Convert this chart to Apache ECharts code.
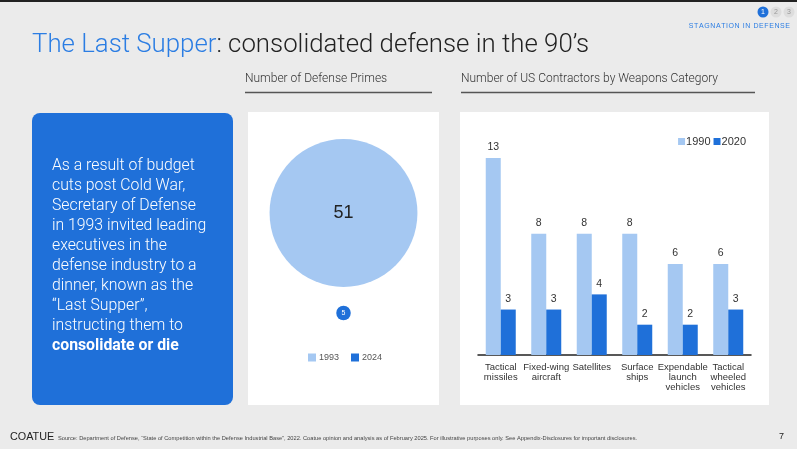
<!DOCTYPE html>
<html>
<head>
<meta charset="utf-8">
<script src="https://cdn.jsdelivr.net/npm/echarts@6/dist/echarts.min.js"></script>
<style>
  html, body { margin: 0; padding: 0; background: #ebebeb; }
  #chart { width: 797px; height: 449px; }
</style>
</head>
<body>
<div id="chart"></div>
<script>
// Defense primes (bubble panel)
const primeYears = ['1993', '2024'];
const primeCounts = [51, 5];

// Contractors by weapons category (bar panel)
const categories = ['Tactical\nmissiles', 'Fixed-wing\naircraft', 'Satellites', 'Surface\nships', 'Expendable\nlaunch\nvehicles', 'Tactical\nwheeled\nvehicles'];
const contractors1990 = [13, 8, 8, 8, 6, 6];
const contractors2020 = [3, 3, 4, 2, 2, 3];

const boxLines = [
    'As a result of budget',
    'cuts post Cold War,',
    'Secretary of Defense',
    'in 1993 invited leading',
    'executives in the',
    'defense industry to a',
    'dinner, known as the',
    '\u201cLast Supper\u201d,',
    'instructing them to'
];
const boxBold = 'consolidate or die';

const LIGHT = '#a5c8f2';
const DARK = '#1f70d9';
const FONT = "'Liberation Sans', Arial, sans-serif";

// spaced-out caps for the section tag
const sectionTag = 'STAGNATION IN DEFENSE'.split('').join('\u200a');

const chart = echarts.init(document.getElementById('chart'));

chart.setOption({
    backgroundColor: '#ebebeb',
    animation: false,
    textStyle: { fontFamily: FONT },
    graphic: [
        // top rule
        { type: 'rect', shape: { x: 0, y: 0, width: 797, height: 2 }, style: { fill: '#222' } },
        // panels
        { type: 'rect', shape: { x: 248, y: 112, width: 191, height: 293 }, style: { fill: '#fff' }, z: -1 },
        { type: 'rect', shape: { x: 460, y: 112, width: 309, height: 293 }, style: { fill: '#fff' }, z: -1 },
        { type: 'rect', shape: { x: 32, y: 113, width: 201, height: 292, r: 8 }, style: { fill: DARK } },
        // title
        {
            type: 'text', left: 32, top: 33,
            style: {
                text: '{b|The Last Supper}{a|: consolidated defense in the 90\u2019s}',
                rich: {
                    b: { fill: '#2b7de3', fontSize: 25.8, fontWeight: 300, fontFamily: 'Roboto' },
                    a: { fill: '#222', fontSize: 25.8, fontWeight: 300, fontFamily: 'Roboto' }
                }
            }
        },
        // page dots
        { type: 'circle', shape: { cx: 763, cy: 12, r: 5.5 }, style: { fill: DARK } },
        { type: 'text', style: { x: 763, y: 12, text: '1', fill: '#fff', fontSize: 7, align: 'center', verticalAlign: 'middle', fontFamily: FONT } },
        { type: 'circle', shape: { cx: 776, cy: 12, r: 5.5 }, style: { fill: '#ddd' } },
        { type: 'text', style: { x: 776, y: 12, text: '2', fill: '#999', fontSize: 7, align: 'center', verticalAlign: 'middle', fontFamily: FONT } },
        { type: 'circle', shape: { cx: 789, cy: 12, r: 5.5 }, style: { fill: '#ddd' } },
        { type: 'text', style: { x: 789, y: 12, text: '3', fill: '#999', fontSize: 7, align: 'center', verticalAlign: 'middle', fontFamily: FONT } },
        { type: 'text', style: { x: 790, y: 26, text: sectionTag, fill: '#2b7de3', fontSize: 7, align: 'right', verticalAlign: 'middle', fontFamily: FONT } },
        // panel headings
        { type: 'text', style: { x: 245, y: 79, text: 'Number of Defense Primes', fill: '#333', fontSize: 12, verticalAlign: 'middle', fontFamily: 'Roboto', fontWeight: 300 } },
        { type: 'line', shape: { x1: 245, y1: 92.5, x2: 432, y2: 92.5 }, style: { stroke: '#555', lineWidth: 1.5 } },
        { type: 'text', style: { x: 461, y: 79, text: 'Number of US Contractors by Weapons Category', fill: '#333', fontSize: 12, verticalAlign: 'middle', fontFamily: 'Roboto', fontWeight: 300 } },
        { type: 'line', shape: { x1: 461, y1: 92.5, x2: 755, y2: 92.5 }, style: { stroke: '#555', lineWidth: 1.5 } },
        // blue box text
        {
            type: 'text', left: 52, top: 158,
            style: {
                text: boxLines.map(l => '{n|' + l + '}').join('\n') + '\n{k|' + boxBold + '}',
                rich: {
                    n: { fill: '#fff', fontSize: 15.8, fontWeight: 300, fontFamily: 'Roboto', lineHeight: 20 },
                    k: { fill: '#fff', fontSize: 15.8, fontWeight: 'bold', fontFamily: 'Roboto', lineHeight: 20 }
                }
            }
        },
        // footer
        { type: 'text', style: { x: 10, y: 437, text: 'COATUE', fill: '#222', fontSize: 10.8, verticalAlign: 'middle', fontFamily: FONT } },
        { type: 'text', style: { x: 58, y: 438, text: 'Source: Department of Defense, \u201cState of Competition within the Defense Industrial Base\u201d, 2022. Coatue opinion and analysis as of February 2025. For illustrative purposes only. See Appendix-Disclosures for important disclosures.', fill: '#444', fontSize: 5.7, verticalAlign: 'middle', fontFamily: FONT } },
        { type: 'text', style: { x: 784, y: 437, text: '7', fill: '#222', fontSize: 9, align: 'right', verticalAlign: 'middle', fontFamily: FONT } }
    ],
    legend: [
        {
            data: primeYears, left: 303, top: 348,
            icon: 'rect', itemWidth: 8, itemHeight: 8, itemGap: 12,
            textStyle: { fontSize: 9, color: '#555', padding: [2, 0, 0, -2] }
        },
        {
            data: ['1990', '2020'], right: 46, top: 131,
            icon: 'rect', itemWidth: 7, itemHeight: 7, itemGap: 3,
            textStyle: { fontSize: 11, color: '#333', padding: [1, 0, 0, -4] }
        }
    ],
    grid: [
        { left: 248, right: 358, top: 163, bottom: 86 },
        { left: 478, right: 46, top: 158, bottom: 94 }
    ],
    xAxis: [
        { gridIndex: 0, type: 'category', data: [''], show: false },
        {
            gridIndex: 1, type: 'category', data: categories,
            axisLine: { lineStyle: { color: '#222', width: 1.5 } },
            axisTick: { show: false },
            axisLabel: { fontSize: 9.5, color: '#333', lineHeight: 10, margin: 7, interval: 0 }
        }
    ],
    yAxis: [
        { gridIndex: 0, type: 'category', data: primeYears, inverse: true, show: false },
        { gridIndex: 1, type: 'value', min: 0, max: 13, show: false }
    ],
    series: [
        {
            name: '1993', type: 'scatter', xAxisIndex: 0, yAxisIndex: 0,
            data: [[0, 0, primeCounts[0]]],
            symbolSize: d => d[2] * 2.9,
            itemStyle: { color: LIGHT, opacity: 1 },
            label: { show: true, position: 'inside', formatter: p => p.value[2], fontSize: 18, color: '#222' }
        },
        {
            name: '2024', type: 'scatter', xAxisIndex: 0, yAxisIndex: 0,
            data: [[0, 1, primeCounts[1]]],
            symbolSize: d => d[2] * 2.9,
            itemStyle: { color: DARK, opacity: 1 },
            label: { show: true, position: 'inside', formatter: p => p.value[2], fontSize: 7, color: '#fff' }
        },
        {
            name: '1990', type: 'bar', xAxisIndex: 1, yAxisIndex: 1,
            data: contractors1990, barWidth: 15, barGap: '0%',
            itemStyle: { color: LIGHT },
            label: { show: true, position: 'top', distance: 5, fontSize: 10.5, color: '#333' }
        },
        {
            name: '2020', type: 'bar', xAxisIndex: 1, yAxisIndex: 1,
            data: contractors2020, barWidth: 15, barGap: '0%',
            itemStyle: { color: DARK },
            label: { show: true, position: 'top', distance: 5, fontSize: 10.5, color: '#333' }
        }
    ]
});
</script>
</body>
</html>
